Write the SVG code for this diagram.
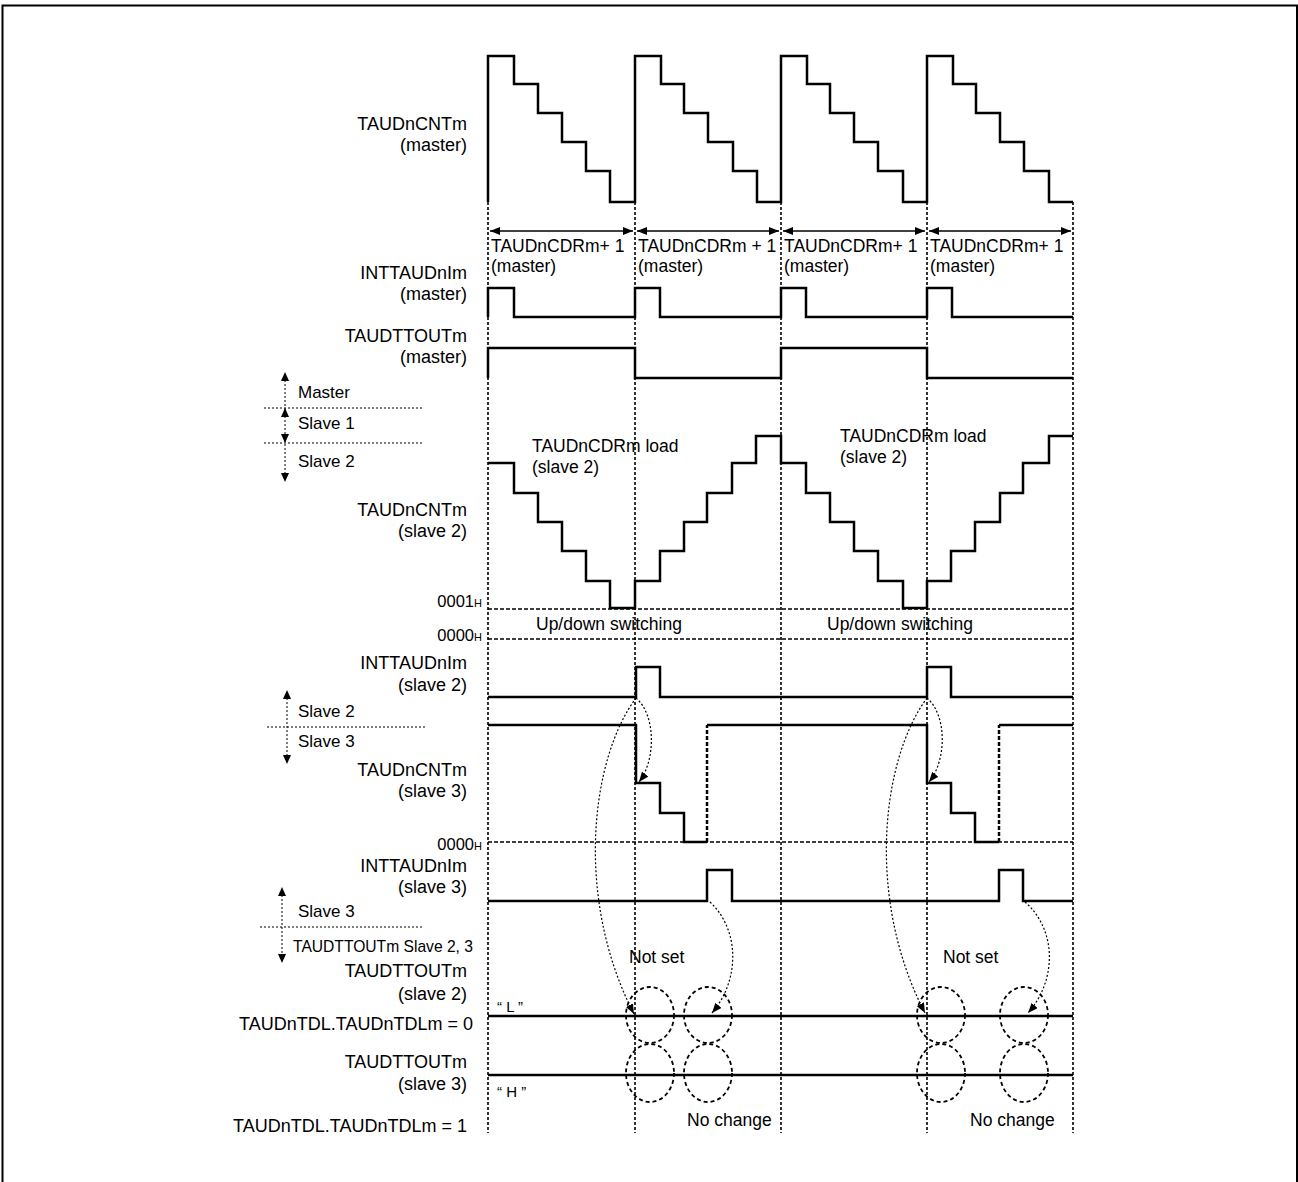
<svg xmlns="http://www.w3.org/2000/svg" width="1298" height="1182" viewBox="0 0 1298 1182">
<style>
text{font-family:"Liberation Sans",Arial,sans-serif;font-size:18px;fill:#000}
.lbl{text-anchor:end}
.sm{font-size:17px}
.in{font-size:17.5px}
.q{font-size:15px}
.wave{fill:none;stroke:#000;stroke-width:2.5;stroke-linejoin:miter}
.vgrid{fill:none;stroke:#000;stroke-width:1.6;stroke-dasharray:3 2}
.hgrid{fill:none;stroke:#000;stroke-width:1.6;stroke-dasharray:4 2}
.thin{fill:none;stroke:#000;stroke-width:1;stroke-dasharray:2 2}
.dv{fill:none;stroke:#000;stroke-width:2.5;stroke-dasharray:4 2}
.ell{fill:none;stroke:#000;stroke-width:1.8;stroke-dasharray:4 3}
.curve{fill:none;stroke:#000;stroke-width:1.2;stroke-dasharray:2 2}
.head{fill:#000;stroke:none}
.dim{fill:none;stroke:#000;stroke-width:1.6}
</style>
<defs>
<marker id="ah" viewBox="0 0 10 8" refX="10" refY="4" markerWidth="10" markerHeight="8" markerUnits="userSpaceOnUse" orient="auto-start-reverse">
<path d="M0,0 L10,4 L0,8 z" fill="#000"/>
</marker>
</defs>

<rect x="2.5" y="5.5" width="1294.5" height="1200" fill="none" stroke="#000" stroke-width="2"/>

<g id="grid">
<path class="vgrid" d="M488 202V1133M635 202V1133M781 202V1133M927 202V1133M1073 202V1133"/>
<path class="hgrid" d="M488 609H1073M488 639H1073M488 842H1073"/>
</g>

<g id="cnt-master">
<text class="lbl" x="467" y="130">TAUDnCNTm</text>
<text class="lbl" x="467" y="151">(master)</text>
<path class="wave" d="M488 202V56H514V84H538V113H562V142H586V171H610V202H635V56H661V84H684V113H708V142H733V171H757V202H781V56H807V84H830V113H854V142H878V171H903V202H927V56H953V84H976V113H1000V142H1024V171H1049V202H1073"/>
</g>

<g id="period">
<path class="dim" d="M490 231H633" marker-start="url(#ah)" marker-end="url(#ah)"/>
<path class="dim" d="M637 231H779" marker-start="url(#ah)" marker-end="url(#ah)"/>
<path class="dim" d="M783 231H925" marker-start="url(#ah)" marker-end="url(#ah)"/>
<path class="dim" d="M929 231H1071" marker-start="url(#ah)" marker-end="url(#ah)"/>
<text class="in" x="491" y="252">TAUDnCDRm+ 1</text>
<text class="in" x="491" y="272">(master)</text>
<text class="in" x="638" y="252">TAUDnCDRm + 1</text>
<text class="in" x="638" y="272">(master)</text>
<text class="in" x="784" y="252">TAUDnCDRm+ 1</text>
<text class="in" x="784" y="272">(master)</text>
<text class="in" x="930" y="252">TAUDnCDRm+ 1</text>
<text class="in" x="930" y="272">(master)</text>
</g>

<g id="int-master">
<text class="lbl" x="467" y="279">INTTAUDnIm</text>
<text class="lbl" x="467" y="300">(master)</text>
<path class="wave" d="M488 317V288H514V317H635V288H660V317H781V288H806V317H927V288H952V317H1073"/>
</g>

<g id="tout-master">
<text class="lbl" x="467" y="342">TAUDTTOUTm</text>
<text class="lbl" x="467" y="363">(master)</text>
<path class="wave" d="M488 378V348H635V378H781V348H927V378H1073"/>
</g>

<g id="ch-master-s1-s2">
<path class="thin" d="M285 376V478M264 408H422M264 443H422"/>
<polygon class="head" points="285,372 281,381 289,381"/>
<polygon class="head" points="285,408 281,417 289,417"/>
<polygon class="head" points="285,443 281,434 289,434"/>
<polygon class="head" points="285,482 281,473 289,473"/>
<text class="sm" x="298" y="398">Master</text>
<text class="sm" x="298" y="429">Slave 1</text>
<text class="sm" x="298" y="467">Slave 2</text>
</g>

<g id="cnt-slave2">
<text class="lbl" x="467" y="516">TAUDnCNTm</text>
<text class="lbl" x="467" y="537">(slave 2)</text>
<path class="wave" d="M488 463H514V493H538V522H562V551H586V581H610V608H635V581H660V551H684V522H707V493H732V463H756V436H781V463H806V493H830V522H854V551H878V581H903V608H927V581H951V551H975V522H1000V493H1023V463H1049V436H1073"/>
<text class="in" x="532" y="452">TAUDnCDRm load</text>
<text class="in" x="532" y="473">(slave 2)</text>
<text class="in" x="840" y="442">TAUDnCDRm load</text>
<text class="in" x="840" y="463">(slave 2)</text>
<text class="lbl" x="482" y="607" style="font-size:16.5px">0001<tspan style="font-size:11px">H</tspan></text>
<text class="in" x="536" y="630">Up/down switching</text>
<text class="in" x="827" y="630">Up/down switching</text>
<text class="lbl" x="482" y="641" style="font-size:16.5px">0000<tspan style="font-size:11px">H</tspan></text>
</g>

<g id="int-slave2">
<text class="lbl" x="467" y="669">INTTAUDnIm</text>
<text class="lbl" x="467" y="691">(slave 2)</text>
<path class="wave" d="M488 697H636V667H660V697H927V667H951V697H1073"/>
</g>

<g id="ch-s2-s3">
<path class="thin" d="M287 694V760M267 727H425"/>
<polygon class="head" points="287,690 283,699 291,699"/>
<polygon class="head" points="287,764 283,755 291,755"/>
<text class="sm" x="298" y="717">Slave 2</text>
<text class="sm" x="298" y="747">Slave 3</text>
</g>

<g id="cnt-slave3">
<text class="lbl" x="467" y="776">TAUDnCNTm</text>
<text class="lbl" x="467" y="797">(slave 3)</text>
<path class="wave" d="M488 725H636V783H660V813H684V842H707M707 725H927V783H951V813H975V842H999M999 725H1073"/>
<path class="dv" d="M707 842V725M999 842V725"/>
<text class="lbl" x="482" y="850" style="font-size:16.5px">0000<tspan style="font-size:11px">H</tspan></text>
</g>

<g id="int-slave3">
<text class="lbl" x="467" y="872">INTTAUDnIm</text>
<text class="lbl" x="467" y="893">(slave 3)</text>
<path class="wave" d="M488 901H707V870H732V901H999V870H1023V901H1073"/>
</g>

<g id="ch-s3-out">
<path class="thin" d="M282 891V959M260 927H423"/>
<polygon class="head" points="282,887 278,896 286,896"/>
<polygon class="head" points="282,963 278,954 286,954"/>
<text class="sm" x="298" y="917">Slave 3</text>
<text class="sm" x="293" y="952" textLength="180" lengthAdjust="spacingAndGlyphs">TAUDTTOUTm Slave 2, 3</text>
</g>

<g id="tout-slave2">
<text class="lbl" x="467" y="977">TAUDTTOUTm</text>
<text class="lbl" x="467" y="1000">(slave 2)</text>
<text class="lbl" x="473" y="1030">TAUDnTDL.TAUDnTDLm = 0</text>
<text class="q" x="497" y="1012">“ L ”</text>
<path class="wave" d="M488 1016H1073"/>
</g>

<g id="tout-slave3">
<text class="lbl" x="467" y="1068">TAUDTTOUTm</text>
<text class="lbl" x="467" y="1090">(slave 3)</text>
<text class="lbl" x="467" y="1132">TAUDnTDL.TAUDnTDLm = 1</text>
<text class="q" x="497" y="1097">“ H ”</text>
<path class="wave" d="M488 1075H1073"/>
</g>

<g id="marks">
<ellipse class="ell" cx="650" cy="1015" rx="24" ry="28"/>
<ellipse class="ell" cx="650" cy="1073" rx="24" ry="29"/>
<ellipse class="ell" cx="708" cy="1015" rx="24" ry="28"/>
<ellipse class="ell" cx="708" cy="1073" rx="24" ry="29"/>
<ellipse class="ell" cx="941" cy="1015" rx="24" ry="28"/>
<ellipse class="ell" cx="941" cy="1073" rx="24" ry="29"/>
<ellipse class="ell" cx="1024" cy="1015" rx="24" ry="28"/>
<ellipse class="ell" cx="1024" cy="1073" rx="24" ry="29"/>
<text class="in" x="629" y="963">Not set</text>
<text class="in" x="943" y="963">Not set</text>
<text class="in" x="687" y="1126">No change</text>
<text class="in" x="970" y="1126">No change</text>
</g>

<g id="connectors">
<path class="curve" d="M636 698C656 715 656 760 639 782" marker-end="url(#ah)"/>
<path class="curve" d="M636 698C590 760 575 900 634 1014" marker-end="url(#ah)"/>
<path class="curve" d="M710 902C740 930 740 980 712 1013" marker-end="url(#ah)"/>
<path class="curve" d="M927 698C947 715 947 760 929 782" marker-end="url(#ah)"/>
<path class="curve" d="M927 698C881 760 866 900 925 1013" marker-end="url(#ah)"/>
<path class="curve" d="M1025 902C1057 930 1057 980 1028 1013" marker-end="url(#ah)"/>
</g>
</svg>
